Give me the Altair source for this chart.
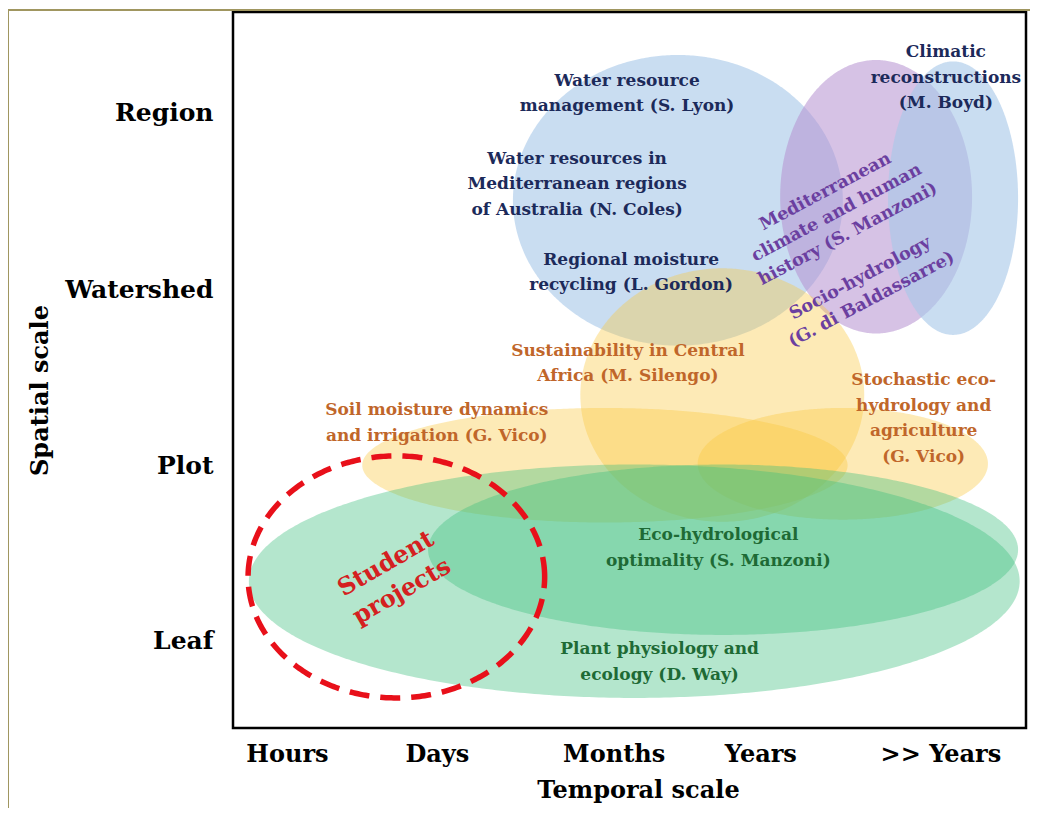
import altair as alt
import numpy as np
import pandas as pd

# ---------------- data (chart units: 0-10 on both axes) ----------------
ell_names = ["wrm", "med", "boyd", "silengo", "soil", "stoch", "plant", "eco"]
ell_cx = [5.61, 8.11, 9.08, 6.17, 4.69, 7.69, 5.06, 6.18]
ell_cy = [7.37, 7.42, 7.40, 4.65, 3.67, 3.69, 2.05, 2.49]
ell_rx = [2.08, 1.21, 0.82, 1.79, 3.06, 1.83, 4.86, 3.72]
ell_ry = [2.03, 1.91, 1.91, 1.77, 0.80, 0.78, 1.63, 1.19]

student_cx, student_cy, student_rx, student_ry = 2.06, 2.11, 1.87, 1.69

lab_text = [
    "Water resource\nmanagement (S. Lyon)",
    "Water resources in\nMediterranean regions\nof Australia (N. Coles)",
    "Regional moisture\nrecycling (L. Gordon)",
    "Climatic\nreconstructions\n(M. Boyd)",
    "Mediterranean\nclimate and human\nhistory (S. Manzoni)",
    "Socio-hydrology\n(G. di Baldassarre)",
    "Sustainability in Central\nAfrica (M. Silengo)",
    "Soil moisture dynamics\nand irrigation (G. Vico)",
    "Stochastic eco-\nhydrology and\nagriculture\n(G. Vico)",
    "Eco-hydrological\noptimality (S. Manzoni)",
    "Plant physiology and\necology (D. Way)",
    "Student\nprojects",
]
# position of each label's first line
lab_x = [4.97, 4.34, 5.02, 8.99, 7.47, 7.91, 4.98, 2.57, 8.71, 6.12, 5.38, 1.93]
lab_y = [9.04, 7.95, 6.54, 9.44, 7.49, 6.28, 5.27, 4.44, 4.86, 2.70, 1.10, 2.29]
lab_group = ["navy", "navy", "navy", "navy", "purple", "purple",
             "orange", "orange", "orange", "green", "green", "red"]

x_tick_vals = [0.68, 2.57, 4.80, 6.65, 8.92]
x_tick_text = ["Hours", "Days", "Months", "Years", ">> Years"]
y_tick_vals = [1.22, 3.66, 6.13, 8.60]
y_tick_text = ["Leaf", "Plot", "Watershed", "Region"]

# ---------------- styles ----------------
fill_col = {"wrm": "#a8c8e8", "med": "#b58fd0", "boyd": "#a8c8e8",
            "silengo": "#f9c840", "soil": "#f9c840", "stoch": "#f9c840",
            "plant": "#3fbf7f", "eco": "#3fbf7f"}
fill_op = {"wrm": 0.62, "med": 0.55, "boyd": 0.62, "silengo": 0.38,
           "soil": 0.38, "stoch": 0.38, "plant": 0.39, "eco": 0.39}
text_col = {"navy": "#1c2a5a", "purple": "#6b3fa0", "orange": "#c0662a",
            "green": "#1e6a35", "red": "#d42020"}
text_angle = {"navy": 0, "purple": 332, "orange": 0, "green": 0, "red": 330}
text_size = {"navy": 17, "purple": 17.5, "orange": 17, "green": 17, "red": 24}
text_lh = {"navy": 25.5, "purple": 24, "orange": 25.5, "green": 26, "red": 32}
FONT = "DejaVu Serif"

xs = alt.Scale(domain=[0, 10], nice=False, zero=False)
ys = alt.Scale(domain=[0, 10], nice=False, zero=False)


def expr_from(vals, texts):
    e = "''"
    for v, t in sorted(zip(vals, texts), reverse=True):
        e = f"abs(datum.value - {v}) < 0.01 ? '{t}' : ({e})"
    return e


x_axis = alt.Axis(values=x_tick_vals, labelExpr=expr_from(x_tick_vals, x_tick_text),
                  domain=False, ticks=False, grid=False, labelFont=FONT,
                  labelFontWeight="bold", labelFontSize=24, labelColor="black",
                  labelPadding=14, labelFlush=False, labelOverlap=False,
                  title="Temporal scale", titleFont=FONT, titleFontWeight="bold",
                  titleFontSize=24, titleColor="black", titlePadding=12, titleX=405)
y_axis = alt.Axis(values=y_tick_vals, labelExpr=expr_from(y_tick_vals, y_tick_text),
                  domain=False, ticks=False, grid=False, labelFont=FONT,
                  labelFontWeight="bold", labelFontSize=25, labelColor="black",
                  labelPadding=20, labelFlush=False, labelOverlap=False,
                  title="Spatial scale", titleFont=FONT, titleFontWeight="bold",
                  titleFontSize=24, titleColor="black", titleX=-181, titleY=378,
                  titleAngle=270)

X = lambda f="x:Q": alt.X(f, scale=xs, axis=x_axis)
Y = lambda f="y:Q": alt.Y(f, scale=ys, axis=y_axis)

layers = []
t = np.linspace(0, np.pi, 241)
for i, n in enumerate(ell_names):
    df = pd.DataFrame({
        "x": ell_cx[i] + ell_rx[i] * np.cos(t),
        "y": ell_cy[i] + ell_ry[i] * np.sin(t),
        "y2": ell_cy[i] - ell_ry[i] * np.sin(t),
    })
    layers.append(
        alt.Chart(df).mark_area(color=fill_col[n], opacity=fill_op[n], clip=True,
                                interpolate="linear")
        .encode(x=X(), y=Y(), y2="y2:Q")
    )

# dashed student-project ellipse
tt = np.linspace(0, 2 * np.pi, 361)
sdf = pd.DataFrame({
    "x": student_cx + student_rx * np.cos(tt),
    "y": student_cy + student_ry * np.sin(tt),
    "o": np.arange(len(tt)),
})
layers.append(
    alt.Chart(sdf).mark_line(color="#e8101a", strokeWidth=5.5, strokeDash=[20, 11],
                             clip=True)
    .encode(x=X(), y=Y(), order="o:Q")
)

# labels
ldf = pd.DataFrame({"text": lab_text, "x": lab_x, "y": lab_y, "g": lab_group})
for g in ["navy", "purple", "orange", "green", "red"]:
    layers.append(
        alt.Chart(ldf).transform_filter(alt.datum.g == g)
        .mark_text(font=FONT, fontWeight="bold", fontSize=text_size[g],
                   color=text_col[g], lineBreak="\n", lineHeight=text_lh[g],
                   angle=text_angle[g], align="center", baseline="middle")
        .encode(x=X(), y=Y(), text="text:N")
    )

# olive outer frame lines (decoration)
layers.append(alt.Chart(pd.DataFrame({"a": [0]})).mark_rule(color="#a09660", strokeWidth=2)
              .encode(x=alt.value(-225), x2=alt.value(800), y=alt.value(-2)))
layers.append(alt.Chart(pd.DataFrame({"a": [0]})).mark_rule(color="#a09660", strokeWidth=2)
              .encode(x=alt.value(-225), y=alt.value(-2), y2=alt.value(804)))

chart = alt.layer(*layers).properties(
    width=793, height=716,
    autosize=alt.AutoSizeParams(type="none"),
    padding={"left": 225, "top": 4, "right": 4, "bottom": 80},
    background="white",
).configure_view(stroke="black", strokeWidth=2.5)

chart.save("out.html", embed_options={"renderer": "svg", "actions": False})
